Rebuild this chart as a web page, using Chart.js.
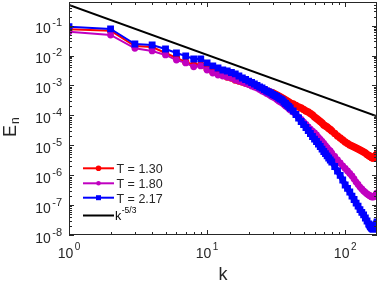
<!DOCTYPE html>
<html>
<head>
<meta charset="utf-8">
<script src="https://cdn.jsdelivr.net/npm/chart.js@4.4.0/dist/chart.umd.min.js"></script>
<style>
  html, body { margin: 0; padding: 0; background: #fff; }
</style>
</head>
<body>
<canvas id="spec" width="378" height="286"></canvas>
<script>
// ==========================
// DATA
// ==========================
const kVals = [
  1, 2, 3, 4, 5, 6, 7, 8, 9, 10, 11, 12, 13, 14, 15, 16, 17, 18, 19, 20,
  21, 22, 23, 24, 25, 26, 27, 28, 29, 30, 31, 32, 33, 34, 35, 36, 37, 38, 39, 40,
  42, 44, 46, 48, 50, 52, 54, 56, 58, 60, 62, 64, 66, 68, 70, 72, 74, 76, 78, 80,
  84, 88, 92, 96, 100, 104, 108, 112, 116, 120, 124, 128, 132, 136, 140, 144, 148,
  150, 152, 154, 156, 158, 160, 162, 164, 166, 168, 170
];

// T = 1.30
const E130 = [
  0.0758, 0.068, 0.0209, 0.0194, 0.0122, 0.0083, 0.0061, 0.00485, 0.0049, 0.00357,
  0.00283, 0.00262, 0.00224, 0.00192, 0.00178, 0.00153, 0.00141, 0.00131, 0.00121, 0.00112,
  0.00104, 0.00096, 0.00089, 0.000825, 0.000764, 0.000707, 0.000655, 0.00063, 0.000583, 0.000561,
  0.00052, 0.000481, 0.000446, 0.000412, 0.000382, 0.000354, 0.000327, 0.000303, 0.000281, 0.00026,
  2.4e-4, 2.14e-4, 1.91e-4, 1.77e-4, 1.57e-4, 1.4e-4, 1.3e-4, 1.16e-4, 1.03e-4, 8.8e-5,
  7.9e-5, 7.0e-5, 6.25e-5, 5.6e-5, 4.8e-5, 4.4e-5, 4.1e-5, 3.65e-5, 3.38e-5, 3.0e-5,
  2.48e-5, 2.05e-5, 1.75e-5, 1.5e-5, 1.29e-5, 1.15e-5, 1.02e-5, 9.5e-6, 8.8e-6, 8.1e-6,
  7.5e-6, 7.0e-6, 6.45e-6, 5.97e-6, 5.52e-6, 4.92e-6, 4.56e-6,
  4.38e-6, 4.22e-6, 4.06e-6, 3.91e-6, 3.76e-6, 3.76e-6, 3.91e-6, 4.06e-6, 4.38e-6, 4.74e-6, 5.12e-6
];

// T = 1.80
const E180 = [
  0.063, 0.0489, 0.0175, 0.0143, 0.0105, 0.0071, 0.0057, 0.0042, 0.0045, 0.0033,
  0.00262, 0.00224, 0.00208, 0.00192, 0.00178, 0.00153, 0.00141, 0.00131, 0.00117, 0.00108,
  0.00096, 0.00089, 0.000825, 0.000735, 0.000655, 0.000606, 0.00054, 0.0005, 0.000446, 0.000412,
  0.000382, 0.00034, 0.000303, 0.000281, 0.00026, 0.000232, 0.000206, 0.000191, 0.00017, 0.000152,
  1.3e-4, 1.07e-4, 8.8e-5, 7.3e-5, 6.0e-5, 4.96e-5, 4.1e-5, 3.5e-5, 3.0e-5, 2.58e-5,
  2.21e-5, 1.82e-5, 1.56e-5, 1.34e-5, 1.15e-5, 9.8e-6, 8.4e-6, 7.2e-6, 6.45e-6, 5.5e-6,
  4.22e-6, 3.22e-6, 2.56e-6, 2.03e-6, 1.68e-6, 1.38e-6, 1.14e-6, 9.4e-7, 7.5e-7, 5.9e-7,
  4.9e-7, 4.0e-7, 3.45e-7, 2.96e-7, 2.64e-7, 2.35e-7, 2.18e-7,
  2.1e-7, 2.01e-7, 1.94e-7, 1.87e-7, 1.87e-7, 1.87e-7, 1.94e-7, 2.01e-7, 2.18e-7, 2.35e-7, 2.54e-7
];

// T = 2.17
const E217 = [
  0.093, 0.078, 0.0244, 0.0226, 0.0166, 0.0122, 0.0097, 0.0077, 0.0078, 0.0057,
  0.0045, 0.00385, 0.0033, 0.00305, 0.00272, 0.00243, 0.00208, 0.00178, 0.00159, 0.00141,
  0.00126, 0.00112, 0.0010, 0.00089, 0.000825, 0.000735, 0.000655, 0.000606, 0.000561, 0.0005,
  0.000463, 0.000429, 0.000382, 0.000354, 0.000327, 0.000281, 0.00025, 0.000223, 0.000199, 0.000177,
  1.4e-4, 1.07e-4, 8.2e-5, 6.25e-5, 4.9e-5, 3.94e-5, 3.13e-5, 2.48e-5, 1.97e-5, 1.62e-5,
  1.34e-5, 1.1e-5, 9.1e-6, 7.5e-6, 6.2e-6, 5.3e-6, 4.4e-6, 3.76e-6, 3.22e-6, 2.76e-6,
  1.95e-6, 1.38e-6, 9.8e-7, 6.9e-7, 4.7e-7, 3.6e-7, 2.74e-7, 2.01e-7, 1.54e-7, 1.17e-7,
  9.3e-8, 7.1e-8, 5.7e-8, 4.7e-8, 3.7e-8, 2.94e-8, 2.33e-8,
  2.16e-8, 1.92e-8, 1.78e-8, 1.65e-8, 1.58e-8, 1.58e-8, 1.71e-8, 1.85e-8, 2.08e-8, 2.33e-8, 2.72e-8
];

// k^-5/3 reference line (end points)
const refK = [1, 170];
const refE = [0.49, 9.4e-5];

const xTickExp = [0, 1, 2];
const yTickExp = [-1, -2, -3, -4, -5, -6, -7, -8];
const seriesLabels = ["T = 1.30", "T = 1.80", "T = 2.17"];

// ==========================
// STYLE
// ==========================
const FONT = '"Liberation Sans", Arial, Helvetica, sans-serif';
const INK = "#262626";
const RED = "#ff0000";
const MAG = "#c000c0";
const BLUE = "#0000ff";
const BAND_FROM = 29; // index of k = 30, where the markers merge into a band

function pts(xs, ys) {
  return xs.map((k, i) => ({ x: k, y: ys[i] }));
}

// thick line under the dense markers at high k
function band(ys, color, width, order) {
  return {
    data: pts(kVals.slice(BAND_FROM), ys.slice(BAND_FROM)),
    borderColor: color,
    borderWidth: width,
    borderJoinStyle: "round",
    borderCapStyle: "round",
    pointRadius: 0,
    order: order
  };
}

// 10 with superscript exponent, anchored by its left edge
function drawPow(ctx, exp, left, baseY, expY, baseSize, expSize) {
  ctx.font = baseSize + "px " + FONT;
  ctx.fillText("10", left, baseY);
  const wb = ctx.measureText("10").width;
  ctx.font = expSize + "px " + FONT;
  ctx.fillText(String(exp), left + wb + 1.5, expY);
}

function powWidth(ctx, exp, baseSize, expSize) {
  ctx.font = baseSize + "px " + FONT;
  const wb = ctx.measureText("10").width;
  ctx.font = expSize + "px " + FONT;
  return wb + 1.5 + ctx.measureText(String(exp)).width;
}

// ==========================
// FRAME, TICKS, LABELS, LEGEND
// ==========================
const decor = {
  id: "decor",
  afterDraw(chart) {
    const { ctx, chartArea: a, scales: { x, y } } = chart;
    ctx.save();

    // ticks (inside, all four sides)
    ctx.strokeStyle = INK;
    ctx.lineWidth = 1;
    ctx.beginPath();
    for (let e = 0; e <= 2; e++) {
      for (let m = 1; m <= 9; m++) {
        const v = m * Math.pow(10, e);
        if (v > x.max) break;
        const px = Math.round(x.getPixelForValue(v)) + 0.5;
        const len = m === 1 ? 5 : 3;
        ctx.moveTo(px, a.bottom); ctx.lineTo(px, a.bottom - len);
        ctx.moveTo(px, a.top); ctx.lineTo(px, a.top + len);
      }
    }
    for (let e = -8; e <= -1; e++) {
      for (let m = 1; m <= 9; m++) {
        const v = m * Math.pow(10, e);
        if (v > y.max) break;
        const py = Math.round(y.getPixelForValue(v)) + 0.5;
        const len = m === 1 ? 5 : 3;
        ctx.moveTo(a.left, py); ctx.lineTo(a.left + len, py);
        ctx.moveTo(a.right, py); ctx.lineTo(a.right - len, py);
      }
    }
    ctx.stroke();

    // box
    ctx.strokeRect(a.left + 0.5, a.top + 0.5, a.right - a.left - 1, a.bottom - a.top - 1);

    // tick labels
    ctx.fillStyle = INK;
    ctx.textAlign = "left";
    ctx.textBaseline = "alphabetic";
    xTickExp.forEach(e => {
      const px = x.getPixelForValue(Math.pow(10, e));
      const w = powWidth(ctx, e, 14, 10);
      drawPow(ctx, e, px - w / 2, 258, 250, 14, 10);
    });
    yTickExp.forEach(e => {
      const py = y.getPixelForValue(Math.pow(10, e));
      const w = powWidth(ctx, e, 14, 11);
      drawPow(ctx, e, 62 - w, py + 7.5, py + 0.5, 14, 11);
    });

    // axis titles
    ctx.font = "18px " + FONT;
    ctx.textAlign = "center";
    ctx.fillText("k", (a.left + a.right) / 2, 280);

    ctx.save();
    ctx.translate(16, 137);
    ctx.rotate(-Math.PI / 2);
    ctx.textAlign = "left";
    ctx.font = "18px " + FONT;
    ctx.fillText("E", 0, 0);
    const we = ctx.measureText("E").width;
    ctx.font = "12px " + FONT;
    ctx.fillText("n", we + 1, 3);
    ctx.restore();

    // legend
    const rows = [168.3, 183.3, 197.7, 215.5];
    const cols = [RED, MAG, BLUE, "#000"];
    ctx.lineWidth = 2;
    rows.forEach((ry, i) => {
      ctx.strokeStyle = cols[i];
      ctx.beginPath();
      ctx.moveTo(83, ry);
      ctx.lineTo(114, ry);
      ctx.stroke();
      ctx.fillStyle = cols[i];
      if (i === 0 || i === 1) {
        ctx.beginPath();
        ctx.arc(98.5, ry, i === 0 ? 2.8 : 2.3, 0, Math.PI * 2);
        ctx.fill();
      } else if (i === 2) {
        ctx.fillRect(96, ry - 2.5, 5, 5);
      }
    });
    ctx.fillStyle = INK;
    ctx.textAlign = "left";
    ctx.font = "12.5px " + FONT;
    seriesLabels.forEach((t, i) => ctx.fillText(t, 116.5, rows[i] + 4.8));
    ctx.fillStyle = "#000";
    ctx.font = "12.5px " + FONT;
    ctx.fillText("k", 115, 219.5);
    const wk = ctx.measureText("k").width;
    ctx.font = "8.5px " + FONT;
    ctx.fillText("-5/3", 115 + wk + 0.5, 213);

    ctx.restore();
  }
};

// ==========================
// CHART
// ==========================
const ctx = document.getElementById("spec").getContext("2d");

new Chart(ctx, {
  type: "line",
  data: {
    datasets: [
      {
        label: "k^-5/3",
        data: pts(refK, refE),
        borderColor: "#000",
        borderWidth: 2,
        pointRadius: 0,
        order: 0
      },
      {
        label: seriesLabels[2],
        data: pts(kVals, E217),
        borderColor: BLUE,
        backgroundColor: BLUE,
        borderWidth: 2,
        pointStyle: "rect",
        pointRadius: 3.4,
        order: 1
      },
      band(E217, BLUE, 5.6, 1.5),
      {
        label: seriesLabels[1],
        data: pts(kVals, E180),
        borderColor: MAG,
        backgroundColor: MAG,
        borderWidth: 2,
        pointRadius: 2.4,
        order: 2
      },
      band(E180, MAG, 5.6, 2.5),
      {
        label: seriesLabels[0],
        data: pts(kVals, E130),
        borderColor: RED,
        backgroundColor: RED,
        borderWidth: 2,
        pointRadius: 2.7,
        order: 3
      },
      band(E130, RED, 6.2, 3.5)
    ]
  },
  options: {
    responsive: false,
    animation: false,
    events: [],
    layout: { padding: { left: 0, right: 1, top: 2, bottom: 0 }, autoPadding: false },
    plugins: { legend: { display: false }, tooltip: { enabled: false } },
    elements: { line: { tension: 0 } },
    scales: {
      x: {
        type: "logarithmic",
        min: 1,
        max: 170,
        ticks: { display: false },
        grid: { display: false },
        border: { display: false },
        afterFit(s) { s.height = 51; }
      },
      y: {
        type: "logarithmic",
        min: 1e-8,
        max: 0.62,
        ticks: { display: false },
        grid: { display: false },
        border: { display: false },
        afterFit(s) { s.width = 69; }
      }
    }
  },
  plugins: [decor]
});
</script>
</body>
</html>
